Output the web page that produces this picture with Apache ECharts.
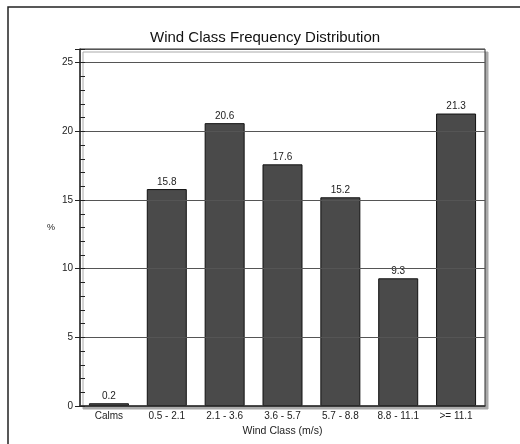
<!DOCTYPE html>
<html>
<head>
<meta charset="utf-8">
<script src="https://cdn.jsdelivr.net/npm/echarts@6/dist/echarts.min.js"></script>
<style>html,body{margin:0;padding:0;background:#fff;}#c{width:520px;height:444px;}</style>
</head>
<body>
<div id="c"></div>
<script>
const categories = ['Calms', '0.5 - 2.1', '2.1 - 3.6', '3.6 - 5.7', '5.7 - 8.8', '8.8 - 11.1', '>= 11.1'];
const frequency = [0.2, 15.8, 20.6, 17.6, 15.2, 9.3, 21.3];
const titleText = 'Wind Class Frequency Distribution';
const xName = 'Wind Class (m/s)';
const yName = '%';

const FONT = 'Liberation Sans, Arial, sans-serif';
const chart = echarts.init(document.getElementById('c'), null, {renderer: 'canvas'});
chart.setOption({
  backgroundColor: '#fff',
  animation: false,
  title: {
    text: titleText,
    left: 145, top: 25,
    textStyle: {fontFamily: FONT, fontSize: 15, fontWeight: 'normal', color: '#111'}
  },
  graphic: [{
    type: 'rect', silent: true, z: -1,
    shape: {x: 8, y: 7, width: 700, height: 700},
    style: {fill: null, stroke: '#222', lineWidth: 1.5}
  }],
  grid: {
    left: 80, top: 49, right: 35, bottom: 38,
    show: true, backgroundColor: '#fff', borderColor: '#333', borderWidth: 1,
    shadowColor: '#aaa', shadowOffsetX: 3, shadowOffsetY: 3, shadowBlur: 0
  },
  xAxis: [{
    type: 'category', data: categories, position: 'bottom', z: 10,
    axisLine: {lineStyle: {color: '#333', width: 1.5}},
    axisTick: {alignWithLabel: true, length: 6, lineStyle: {color: '#222'}},
    axisLabel: {fontFamily: FONT, fontSize: 10, color: '#222', margin: 5, interval: 0},
    name: xName, nameLocation: 'middle', nameGap: 14,
    nameTextStyle: {fontFamily: FONT, fontSize: 10.5, color: '#222'}
  }, {
    type: 'category', data: categories, position: 'bottom', z: 10,
    axisLine: {show: false},
    axisTick: {alignWithLabel: true, inside: true, length: 6, lineStyle: {color: '#222'}},
    axisLabel: {show: false}
  }],
  yAxis: [{
    type: 'value', min: 0, max: 26, interval: 5, z: 10,
    axisLine: {show: true, lineStyle: {color: '#333', width: 1.5}},
    axisTick: {show: true, length: 5, lineStyle: {color: '#222'}},
    axisLabel: {fontFamily: FONT, fontSize: 10, color: '#222', margin: 7,
      formatter: v => (v % 5 === 0 ? String(v) : '')},
    splitLine: {show: true, lineStyle: {color: '#555', width: 1}},
    name: yName, nameLocation: 'middle', nameGap: 25, nameRotate: 0,
    nameTextStyle: {fontFamily: FONT, fontSize: 9, color: '#222'}
  }, {
    type: 'value', min: 0, max: 26, interval: 1, position: 'left', z: 10,
    axisLine: {show: false},
    axisTick: {show: true, inside: true, length: 5, lineStyle: {color: '#222'}},
    axisLabel: {show: false},
    splitLine: {show: false}
  }],
  series: [{
    type: 'bar', data: frequency, barWidth: 40, xAxisIndex: 0, yAxisIndex: 0,
    itemStyle: {color: '#4a4a4a', borderColor: '#111', borderWidth: 1},
    label: {show: true, position: 'top', distance: 2, fontFamily: FONT, fontSize: 10, color: '#222'}
  }]
});
</script>
</body>
</html>
